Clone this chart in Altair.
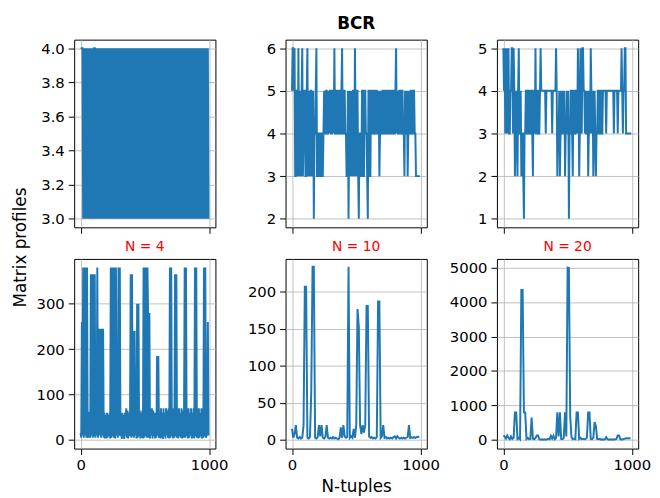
import altair as alt
import pandas as pd

BLUE = "#1f77b4"
FONT = "DejaVu Sans"

# sample index (N-tuple position) of every value below
IDX5 = list(range(0, 1000, 5))
IDX10 = list(range(0, 1000, 10))

# ---- BCR matrix profiles ----
BCR_N4_TOP = [int(c) for c in (
    "4444343434" "3434343434" "3443434343" "4343434343" "4343434343"
    "4343434343" "4343434343" "4343434343" "4343434343" "4343434343"
    "4343434343" "4343434343" "4343434343" "4343434343" "4343434343"
    "4343434343" "4343434343" "4343434343" "4343434343" "4343434343")]

BCR_N10_TOP = [
    5, 6, 6, 5, 6, 3, 3, 5, 5, 3, 6, 3, 4, 5, 3, 5, 6, 3, 4, 5,
    5, 3, 3, 5, 6, 3, 4, 5, 3, 5, 5, 3, 4, 5, 2, 4, 4, 5, 6, 3,
    3, 4, 4, 3, 3, 4, 4, 3, 3, 4, 5, 4, 4, 5, 5, 4, 4, 5, 4, 5,
    5, 4, 4, 5, 5, 4, 6, 4, 4, 5, 5, 4, 4, 5, 5, 4, 4, 5, 6, 4,
    4, 5, 5, 4, 4, 3, 3, 5, 2, 4, 5, 3, 4, 5, 3, 5, 5, 3, 6, 4,
    3, 5, 5, 3, 2, 4, 4, 3, 3, 5, 5, 3, 3, 5, 5, 4, 4, 3, 2, 5,
    5, 3, 3, 5, 5, 4, 4, 5, 5, 4, 4, 5, 5, 4, 4, 5, 3, 4, 5, 4,
    4, 5, 5, 4, 4, 5, 5, 4, 4, 5, 5, 4, 4, 5, 5, 4, 4, 5, 5, 4,
    4, 5, 6, 4, 5, 4, 4, 5, 5, 4, 4, 5, 5, 4, 4, 3, 5, 4, 4, 5,
    3, 4, 5, 4, 4, 5, 5, 4, 4, 5, 5, 4, 4, 3, 3, 3, 3, 3, 3, 3]

BCR_N20_TOP = [
    5, 4, 5, 3, 4, 5, 3, 4, 5, 3, 3, 4, 4, 5, 5, 3, 5, 4, 2, 3,
    4, 3, 2, 4, 5, 3, 3, 4, 2, 3, 3, 2, 1, 3, 3, 4, 4, 3, 3, 4,
    4, 3, 3, 4, 4, 3, 2, 4, 4, 3, 5, 3, 3, 4, 4, 3, 3, 4, 5, 4,
    4, 4, 4, 4, 4, 4, 3, 4, 4, 4, 4, 4, 4, 4, 4, 4, 3, 4, 4, 4,
    4, 4, 5, 4, 2, 3, 3, 4, 2, 3, 4, 3, 3, 4, 3, 4, 2, 3, 3, 4,
    3, 4, 1, 3, 3, 4, 4, 3, 2, 4, 4, 3, 3, 4, 4, 3, 5, 4, 2, 3,
    5, 4, 3, 5, 5, 4, 4, 3, 4, 3, 3, 4, 2, 3, 4, 3, 5, 4, 3, 4,
    2, 3, 4, 3, 2, 3, 3, 4, 4, 3, 3, 4, 4, 3, 3, 4, 4, 4, 4, 4,
    3, 4, 4, 4, 4, 4, 4, 4, 4, 4, 4, 4, 3, 4, 4, 4, 4, 4, 3, 4,
    4, 4, 4, 4, 5, 4, 3, 4, 4, 5, 5, 3, 3, 3, 3, 3, 3, 3, 3, 3]

BCR_N4_BOT = [
    15, 5, 260, 10, 380, 5, 380, 10, 380, 5, 380, 8, 5, 60, 60, 5, 365, 10, 365, 5,
    365, 8, 365, 5, 60, 10, 380, 5, 60, 245, 10, 245, 5, 245, 10, 245, 5, 60, 3, 55,
    3, 60, 5, 55, 8, 60, 3, 380, 5, 380, 8, 380, 5, 380, 3, 380, 10, 65, 5, 380,
    10, 380, 8, 55, 2, 60, 5, 55, 2, 60, 10, 70, 5, 65, 3, 60, 8, 60, 365, 5,
    365, 8, 240, 5, 240, 10, 60, 3, 300, 5, 300, 8, 65, 3, 60, 5, 65, 3, 380, 5,
    380, 8, 380, 5, 380, 280, 5, 280, 3, 70, 10, 70, 3, 65, 8, 60, 3, 60, 5, 185,
    10, 185, 5, 55, 3, 70, 5, 60, 2, 70, 8, 60, 3, 70, 10, 65, 5, 70, 3, 380,
    5, 380, 8, 70, 3, 65, 5, 365, 8, 365, 5, 65, 3, 70, 8, 60, 5, 70, 3, 65,
    5, 60, 380, 5, 380, 8, 60, 3, 70, 5, 60, 10, 70, 3, 60, 5, 70, 3, 380, 8,
    380, 5, 65, 3, 70, 5, 60, 8, 70, 3, 65, 5, 380, 8, 380, 5, 10, 60, 260, 10]

BCR_N10_BOT = [
    15, 3, 8, 20, 3, 2, 4, 2, 3, 20,
    207, 207, 3, 2, 4, 65, 234, 234, 3, 2,
    4, 20, 5, 20, 3, 2, 4, 20, 3, 2,
    3, 2, 4, 2, 3, 2, 1, 3, 17, 3,
    20, 5, 3, 4, 234, 3, 5, 3, 15, 3,
    20, 177, 153, 20, 8, 20, 10, 20, 181, 181,
    5, 3, 4, 2, 3, 2, 4, 187, 187, 3,
    5, 20, 3, 4, 2, 3, 2, 3, 2, 4,
    5, 2, 5, 3, 2, 3, 2, 3, 2, 3,
    4, 20, 3, 4, 3, 4, 3, 4, 4, 5]

BCR_N20_BOT = [
    130, 100, 40, 130, 60, 20, 100, 30, 60, 800,
    800, 30, 60, 20, 4350, 4350, 800, 800, 30, 60,
    20, 30, 650, 40, 20, 60, 130, 130, 20, 10,
    20, 10, 20, 10, 20, 30, 20, 120, 40, 120,
    20, 60, 800, 100, 800, 30, 20, 60, 800, 100,
    5000, 4990, 700, 80, 20, 40, 20, 800, 800, 30,
    60, 20, 30, 20, 30, 60, 800, 800, 30, 20,
    60, 520, 400, 30, 20, 30, 10, 20, 10, 20,
    80, 20, 10, 20, 10, 20, 10, 20, 30, 130,
    130, 20, 10, 20, 30, 40, 50, 50, 50, 40]

PANEL_TITLES = ["N = 4", "N = 10", "N = 20"]
SUPER_TITLE = "BCR"
Y_LABEL = "Matrix profiles"
X_LABEL = "N-tuples"
X_TICKS = [0, 1000]


def panel(idx, vals, ydom, yticks, yfmt, h, top_row, title=None, ytitle=None,
          xtitle=None, bold=False):
    df = pd.DataFrame({"x": idx, "y": vals})
    ykw = dict(values=yticks, format=yfmt, grid=True, gridColor="#b0b0b0",
               gridWidth=0.8, domain=False, tickColor="black", tickSize=6,
               labelFontSize=15, labelColor="black", labelFont=FONT,
               labelPadding=4)
    if ytitle:
        ykw.update(title=ytitle, titleX=-54, titleY=210, titleFontSize=17,
                   titleFontWeight="normal", titleColor="black",
                   titleFont=FONT, titleAlign="center",
                   titleBaseline="middle")
    else:
        ykw.update(title=None)
    xkw = dict(values=X_TICKS, format="d", grid=True, gridColor="#b0b0b0",
               gridWidth=0.8, domain=False, tickColor="black", tickSize=6,
               labelFontSize=15, labelColor="black", labelFont=FONT,
               labelPadding=3, labels=not top_row)
    if xtitle:
        xkw.update(title=xtitle, titleY=38, titleFontSize=17,
                   titleFontWeight="normal", titleColor="black",
                   titleFont=FONT, titleBaseline="middle")
    else:
        xkw.update(title=None)
    ch = alt.Chart(df).mark_line(color=BLUE, strokeWidth=2, clip=True).encode(
        x=alt.X("x:Q", scale=alt.Scale(domain=[-50, 1049], nice=False,
                                       zero=False), axis=alt.Axis(**xkw)),
        y=alt.Y("y:Q", scale=alt.Scale(domain=ydom, nice=False, zero=False),
                axis=alt.Axis(**ykw)),
    ).properties(width=143, height=h)
    if title:
        if bold:
            tp = alt.TitleParams(text=title, fontSize=17, fontWeight="bold",
                                 color="black", font=FONT, anchor="middle",
                                 frame="group", offset=7)
        else:
            tp = alt.TitleParams(text=title, fontSize=14, fontWeight="normal",
                                 color="red", font=FONT, anchor="middle",
                                 frame="group", offset=5)
        ch = ch.properties(title=tp)
    return ch


tl = panel(IDX5, BCR_N4_TOP, [2.95, 4.05], [3.0, 3.2, 3.4, 3.6, 3.8, 4.0],
           ".1f", 190, True, ytitle=Y_LABEL)
tm = panel(IDX5, BCR_N10_TOP, [1.8, 6.2], [2, 3, 4, 5, 6], "d", 190, True,
           title=SUPER_TITLE, bold=True)
tr = panel(IDX5, BCR_N20_TOP, [0.8, 5.2], [1, 2, 3, 4, 5], "d", 190, True)
bl = panel(IDX5, BCR_N4_BOT, [-19, 399], [0, 100, 200, 300], "d", 192, False,
           title=PANEL_TITLES[0])
bm = panel(IDX10, BCR_N10_BOT, [-11.6, 244.6], [0, 50, 100, 150, 200], "d",
           192, False, title=PANEL_TITLES[1], xtitle=X_LABEL)
br = panel(IDX10, BCR_N20_BOT, [-250, 5250],
           [0, 1000, 2000, 3000, 4000, 5000], "d", 192, False,
           title=PANEL_TITLES[2])

chart = alt.concat(tl, tm, tr, bl, bm, br, columns=3,
                   spacing={"row": 32, "column": 71}).properties(
    bounds="flush",
    padding={"left": 3, "top": 3, "right": 0, "bottom": 0},
).configure_view(stroke="black", strokeWidth=1)

chart.save("out.html", embed_options={"renderer": "svg", "actions": False})
